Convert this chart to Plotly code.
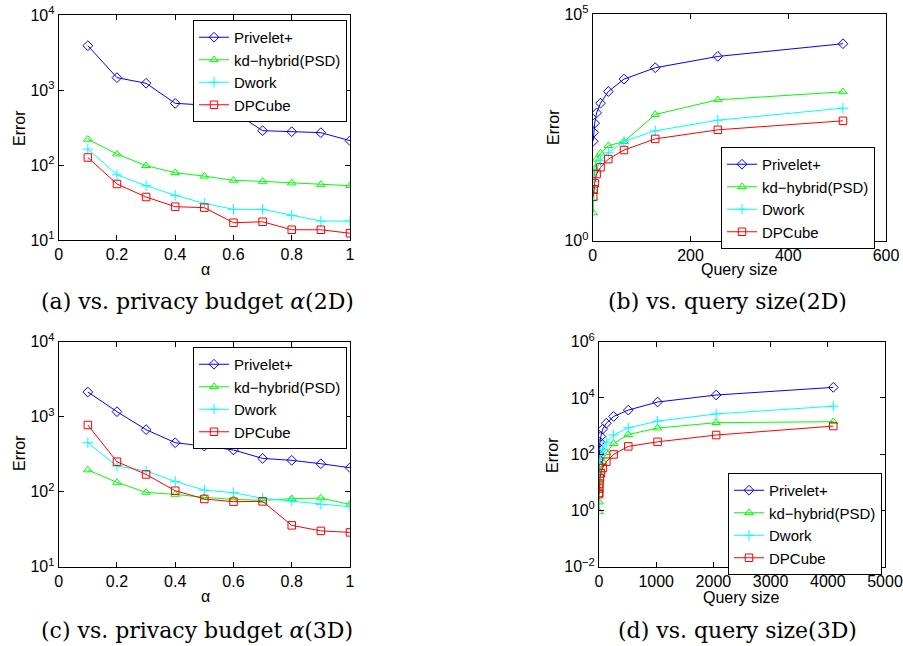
import plotly.graph_objects as go

W, H = 903, 646

# ---------------- data ----------------
series_names = ["Privelet+", "kd\u2212hybrid(PSD)", "Dwork", "DPCube"]
series_colors = ["#0000FF", "#00FF00", "#00FFFF", "#FF0000"]
series_symbols = ["diamond-open", "triangle-up-open", "cross-thin", "square-open"]

alpha = [0.1, 0.2, 0.3, 0.4, 0.5, 0.6, 0.7, 0.8, 0.9, 1.0]

# (a) 2D vs alpha
a_privelet = [3900, 1460, 1230, 664, 630, 514, 287, 278, 270, 211]
a_kd = [220, 140, 98, 79, 71, 62.5, 60.5, 57.5, 55, 53]
a_dwork = [163, 74, 53, 39.4, 30.8, 25.6, 25.6, 21.3, 17.9, 17.9]
a_dpcube = [126, 55.8, 37.4, 27.8, 27, 17, 17.5, 13.7, 13.7, 12.3]

# (b) 2D vs query size
qsize_2d = [1, 2, 4, 8, 16, 32, 64, 128, 256, 512]
b_privelet = [156, 243, 391, 660, 1080, 1950, 3660, 6520, 11600, 22100]
b_kd = [4.1, 13, 38, 63, 85, 125, 153, 608, 1282, 1923]
b_dwork = [8, 11, 20, 38, 58, 87, 156, 265, 455, 838]
b_dpcube = [9.3, 13.6, 18.4, 29.6, 41.6, 63, 100, 176, 279, 441]

# (c) 3D vs alpha
c_privelet = [2133, 1167, 672, 450, 406, 360, 278, 262, 236, 209]
c_kd = [195, 133, 98, 92, 84, 79, 76.6, 80.7, 82.4, 67.8]
c_dwork = [450, 220, 189, 137, 105, 97, 81.5, 75, 67.8, 63]
c_dpcube = [775, 251, 170, 103, 80, 73.6, 74.3, 35.6, 30, 28.7]

# (d) 3D vs query size
qsize_3d = [1, 2, 4, 8, 16, 32, 64, 128, 256, 512, 1024, 2048, 4096]
d_privelet = [42, 65, 100, 160, 270, 430, 780, 1260, 2200, 3700, 7160, 12700, 23800]
d_kd = [0.9, 2.0, 5.4, 10.5, 18, 28, 55, 113, 240, 500, 850, 1320, 1430]
d_dwork = [12, 20, 30, 45, 65, 95, 150, 270, 480, 860, 1500, 2700, 5100]
d_dpcube = [3.8, 4.2, 6, 9, 14, 21, 32, 54, 98, 190, 275, 480, 1000]

# tick exponents of the log axes
exp_a = [1, 2, 3, 4]
exp_b = [0, 5]
exp_c = [1, 2, 3, 4]
exp_d = [-2, 0, 2, 4, 6]

panels = [
    dict(x=alpha, ys=[a_privelet, a_kd, a_dwork, a_dpcube], ax="", leg="legend"),
    dict(x=qsize_2d, ys=[b_privelet, b_kd, b_dwork, b_dpcube], ax="2", leg="legend2"),
    dict(x=alpha, ys=[c_privelet, c_kd, c_dwork, c_dpcube], ax="3", leg="legend3"),
    dict(x=qsize_3d, ys=[d_privelet, d_kd, d_dwork, d_dpcube], ax="4", leg="legend4"),
]

fig = go.Figure()
for p in panels:
    for name, col, sym, y in zip(series_names, series_colors, series_symbols, p["ys"]):
        fig.add_trace(go.Scatter(
            x=p["x"], y=y, name=name, mode="lines+markers",
            line=dict(color=col, width=1),
            marker=dict(symbol=sym, size=7.5, color=col, line=dict(color=col, width=1)),
            xaxis="x" + p["ax"], yaxis="y" + p["ax"], legend=p["leg"],
        ))

def px_x(v):
    return v / W

def px_y(v):
    return 1 - v / H

def logticks(exps):
    vals = [10.0 ** e for e in exps]
    txt = ["10<sup>%s</sup>" % (str(e).replace("-", "\u2212")) for e in exps]
    return dict(tickmode="array", tickvals=vals, ticktext=txt)

tickfont = dict(family="Liberation Sans, Arial, sans-serif", size=16, color="black")
common = dict(showline=True, linecolor="black", linewidth=1, mirror="ticks",
              ticks="inside", ticklen=5, tickcolor="black", showgrid=False,
              zeroline=False, tickfont=tickfont, automargin=False)

layout = dict(
    width=W, height=H, margin=dict(l=0, r=0, t=0, b=0, autoexpand=False),
    paper_bgcolor="white", plot_bgcolor="white", showlegend=True,
    # (a)
    xaxis=dict(domain=[px_x(58.7), px_x(350)], range=[0, 1], dtick=0.2, anchor="y", **common),
    yaxis=dict(domain=[px_y(240), px_y(15)], type="log", range=[1, 4],
               anchor="x", **logticks(exp_a), **common),
    # (b)
    xaxis2=dict(domain=[px_x(592.7), px_x(886)], range=[0, 600], dtick=200, anchor="y2", **common),
    yaxis2=dict(domain=[px_y(240.7), px_y(14)], type="log", range=[0, 5],
                anchor="x2", **logticks(exp_b), **common),
    # (c)
    xaxis3=dict(domain=[px_x(58.7), px_x(350)], range=[0, 1], dtick=0.2, anchor="y3", **common),
    yaxis3=dict(domain=[px_y(566.7), px_y(341.7)], type="log", range=[1, 4],
                anchor="x3", **logticks(exp_c), **common),
    # (d)
    xaxis4=dict(domain=[px_x(599), px_x(885)], range=[0, 5000], dtick=1000, anchor="y4", **common),
    yaxis4=dict(domain=[px_y(566.7), px_y(341.7)], type="log", range=[-2, 6],
                anchor="x4", **logticks(exp_d), **common),
)

legfont = dict(family="Liberation Sans, Arial, sans-serif", size=15, color="black")
leg_common = dict(bgcolor="white", bordercolor="black", borderwidth=1, font=legfont,
                  xanchor="left", yanchor="top", itemwidth=30, tracegroupgap=0,
                  xref="paper", yref="paper")
layout["legend"] = dict(x=px_x(193), y=px_y(20), **leg_common)
layout["legend2"] = dict(x=px_x(721), y=px_y(147), **leg_common)
layout["legend3"] = dict(x=px_x(193), y=px_y(347), **leg_common)
layout["legend4"] = dict(x=px_x(728), y=px_y(473), **leg_common)

fig.update_layout(**layout)

labfont = dict(family="Liberation Sans, Arial, sans-serif", size=16, color="black")
capfont = dict(family="DejaVu Serif, Liberation Serif, serif", size=22, color="black")

def ann(text, x, y, font, angle=0):
    fig.add_annotation(text=text, x=px_x(x), y=px_y(y), xref="paper", yref="paper",
                       showarrow=False, font=font, textangle=angle,
                       xanchor="center", yanchor="middle")

# axis titles
ann("α", 205, 270, labfont)
ann("Query size", 739, 270, labfont)
ann("α", 205, 596, labfont)
ann("Query size", 741, 597, labfont)
for xx, yy in [(19, 128), (553, 127), (19, 453), (552, 455)]:
    ann("Error", xx, yy, labfont, angle=-90)

# captions
ann("(a) vs. privacy budget <i>α</i>(2D)", 197, 301, capfont)
ann("(b) vs. query size(2D)", 727, 301, capfont)
ann("(c) vs. privacy budget <i>α</i>(3D)", 197, 630, capfont)
ann("(d) vs. query size(3D)", 737, 630, capfont)

fig.write_html(
    "out.html",
    config={"displayModeBar": False},
    post_script="document.body.style.margin='0';document.body.style.padding='0';"
                "document.documentElement.style.overflow='hidden';",
)
